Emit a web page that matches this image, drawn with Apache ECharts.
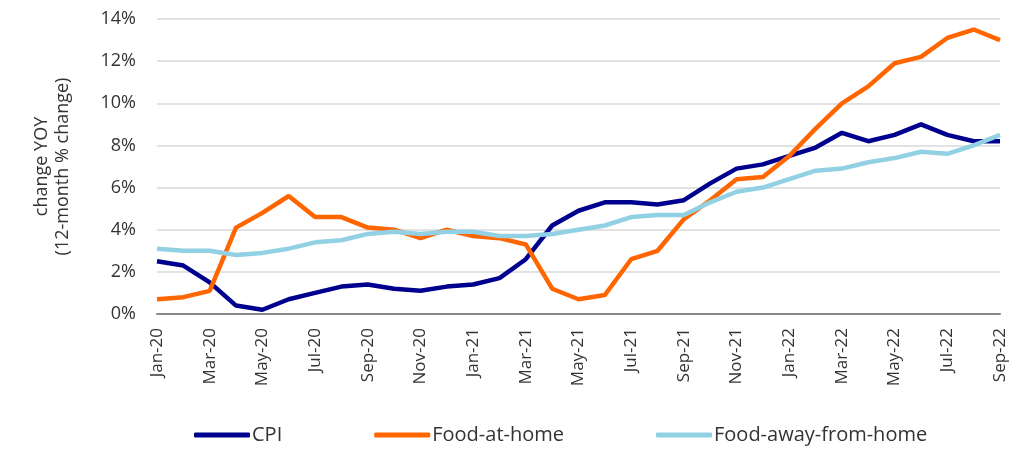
<!DOCTYPE html>
<html>
<head>
<meta charset="utf-8">
<script src="https://cdn.jsdelivr.net/npm/echarts@6/dist/echarts.min.js"></script>
<style>
  html, body { margin: 0; padding: 0; background: #fff; }
  #chart { width: 1022px; height: 450px; }
</style>
</head>
<body>
<div id="chart"></div>
<script>
// months Jan-20 .. Sep-22
var months = ['Jan-20','Feb-20','Mar-20','Apr-20','May-20','Jun-20','Jul-20','Aug-20','Sep-20','Oct-20','Nov-20','Dec-20',
  'Jan-21','Feb-21','Mar-21','Apr-21','May-21','Jun-21','Jul-21','Aug-21','Sep-21','Oct-21','Nov-21','Dec-21',
  'Jan-22','Feb-22','Mar-22','Apr-22','May-22','Jun-22','Jul-22','Aug-22','Sep-22'];

var cpi = [2.5, 2.3, 1.5, 0.4, 0.2, 0.7, 1.0, 1.3, 1.4, 1.2, 1.1, 1.3,
  1.4, 1.7, 2.6, 4.2, 4.9, 5.3, 5.3, 5.2, 5.4, 6.2, 6.9, 7.1,
  7.5, 7.9, 8.6, 8.2, 8.5, 9.0, 8.5, 8.2, 8.2];

var foodAtHome = [0.7, 0.8, 1.1, 4.1, 4.8, 5.6, 4.6, 4.6, 4.1, 4.0, 3.6, 4.0,
  3.7, 3.6, 3.3, 1.2, 0.7, 0.9, 2.6, 3.0, 4.5, 5.4, 6.4, 6.5,
  7.5, 8.8, 10.0, 10.8, 11.9, 12.2, 13.1, 13.5, 13.0];

var foodAway = [3.1, 3.0, 3.0, 2.8, 2.9, 3.1, 3.4, 3.5, 3.8, 3.9, 3.8, 3.9,
  3.9, 3.7, 3.7, 3.8, 4.0, 4.2, 4.6, 4.7, 4.7, 5.3, 5.8, 6.0,
  6.4, 6.8, 6.9, 7.2, 7.4, 7.7, 7.6, 8.0, 8.5];

var chart = echarts.init(document.getElementById('chart'));
var font = "'Open Sans', sans-serif";

function lineSeries(name, data, color) {
  return {
    name: name,
    type: 'line',
    data: data,
    symbol: 'none',
    lineStyle: { color: color, width: 4.5 },
    itemStyle: { color: color }
  };
}

var option = {
  backgroundColor: '#ffffff',
  animation: false,
  textStyle: { fontFamily: font },
  grid: { left: 157, right: 22, top: 19, bottom: 136 },
  legend: {
    left: 189,
    bottom: 0,
    itemWidth: 56,
    itemHeight: 5,
    itemGap: 92,
    icon: 'roundRect',
    textStyle: { fontSize: 20, color: '#333', padding: [0, 0, 0, -3], fontFamily: font },
    data: ['CPI', 'Food-at-home', 'Food-away-from-home']
  },
  xAxis: {
    type: 'category',
    boundaryGap: false,
    data: months,
    axisLine: { lineStyle: { color: '#888', width: 2 } },
    axisTick: { show: false },
    axisLabel: {
      interval: 1,
      rotate: 90,
      fontSize: 17,
      color: '#333',
      margin: 14,
      fontFamily: font
    }
  },
  yAxis: {
    type: 'value',
    min: 0,
    max: 14,
    interval: 2,
    name: 'change YOY\n(12-month % change)',
    nameLocation: 'middle',
    nameGap: 84,
    nameTextStyle: { fontSize: 18, color: '#333', lineHeight: 21, fontFamily: font },
    axisLine: { show: false },
    axisTick: { show: false },
    axisLabel: {
      formatter: '{value}%',
      fontSize: 18,
      color: '#333',
      margin: 21,
      fontFamily: font
    },
    splitLine: { lineStyle: { color: '#d9d9d9', width: 1.5 } }
  },
  series: [
    lineSeries('CPI', cpi, '#00008f'),
    lineSeries('Food-at-home', foodAtHome, '#ff6600'),
    lineSeries('Food-away-from-home', foodAway, '#92d1e3')
  ]
};

chart.setOption(option);
</script>
</body>
</html>
